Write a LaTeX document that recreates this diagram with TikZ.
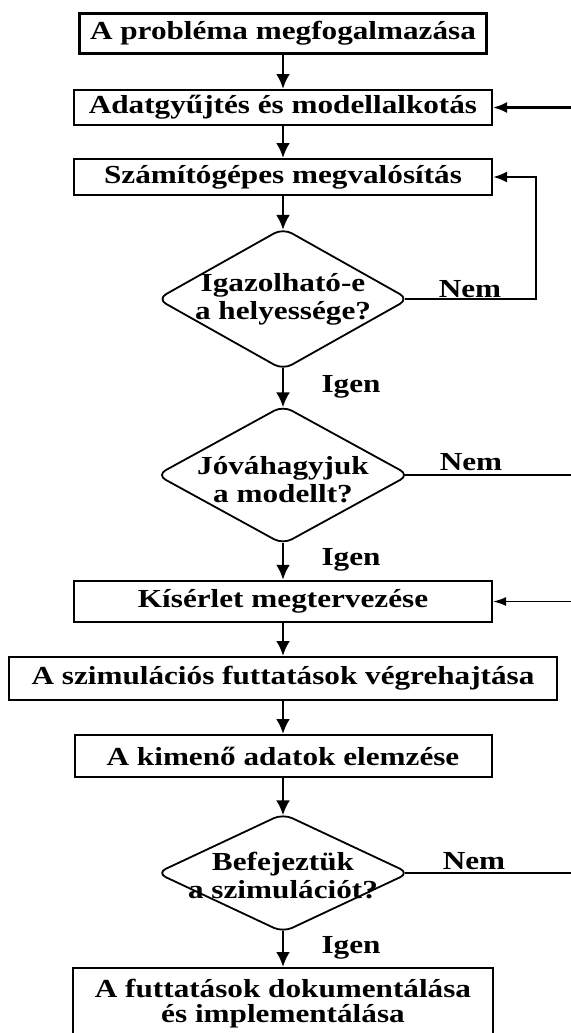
\documentclass[tikz,border=0pt]{standalone}
\usepackage{fontspec}
\setmainfont{Liberation Serif}[FakeStretch=1.2]
\usepackage{tikz}
\usetikzlibrary{shapes.geometric}
\usetikzlibrary{arrows.meta}

\tikzset{
    box/.style={draw,line width=1pt,inner sep=0pt,align=center},
    decision/.style={draw,diamond,rounded corners=5pt,line width=0.9pt,inner sep=0pt},
    dtext/.style={align=center,inner sep=0pt},
    lbl/.style={inner sep=0pt},
    flow/.style={-{Latex[length=7.5pt,width=7pt]},line width=1.4pt},
    back/.style={-{Latex[length=7pt,width=5.5pt]},line width=1.2pt},
    thinback/.style={-{Latex[length=6.5pt,width=4.5pt]},line width=0.6pt},
    thinline/.style={line width=0.6pt},
    intod/.style={shorten >=-1.4pt},
    fromd/.style={shorten <=-1.4pt},
    fromside/.style={shorten <=-2.6pt}
}

\begin{document}
\begin{tikzpicture}[x=0.5pt,y=-0.5pt,font=\bfseries\fontsize{13}{14}\selectfont]
        \useasboundingbox (0,0) rectangle (571,1033);

        \node[box,line width=1.5pt,minimum width=203.5pt,minimum height=20pt] (problema) at (283,33) {A probléma megfogalmazása};
        \node[box,minimum width=209pt,minimum height=17.5pt] (adat) at (283,107.5) {Adatgyűjtés és modellalkotás};
        \node[box,minimum width=209pt,minimum height=18pt] (szamito) at (283,177) {Számítógépes megvalósítás};
        \node[decision,minimum width=126pt,minimum height=71pt] (igazol) at (283,299) {};
        \node[dtext] (igazoltext) at (igazol) {Igazolható-e\\a helyessége?};
        \node[decision,minimum width=126.5pt,minimum height=69.5pt] (jova) at (283,475) {};
        \node[dtext] (jovatext) at (283,480) {Jóváhagyjuk\\a modellt?};
        \node[box,line width=1.2pt,minimum width=209pt,minimum height=20.5pt] (kiserlet) at (283,601.5) {Kísérlet megtervezése};
        \node[box,minimum width=274pt,minimum height=21.5pt] (futtat) at (283,678.5) {A szimulációs futtatások végrehajtása};
        \node[box,minimum width=208.5pt,minimum height=21pt] (kimeno) at (283,756) {A kimenő adatok elemzése};
        \node[decision,minimum width=126.5pt,minimum height=59.5pt] (befejez) at (283,873) {};
        \node[dtext] (befejeztext) at (283,876) {Befejeztük\\a szimulációt?};
        \node[box,minimum width=210pt,minimum height=36pt,font=\bfseries\fontsize{13}{12.5}\selectfont] (dokument) at (283,1004) {A futtatások dokumentálása\\és implementálása};

        \node[lbl] (nem1) at (470,289) {Nem};
        \node[lbl] (nem2) at (471,462) {Nem};
        \node[lbl] (nem3) at (474,861) {Nem};
        \node[lbl] (igen1) at (351,387) {Igen};
        \node[lbl] (igen2) at (351,560) {Igen};
        \node[lbl] (igen3) at (351,948) {Igen};

        \coordinate (loop) at (536,177);
        \coordinate (edgeadat) at (575,107.5);
        \coordinate (edgejova) at (575,475);
        \coordinate (edgekiser) at (575,601.5);
        \coordinate (edgebefej) at (575,873);

        \draw[flow] (problema)--(adat);
        \draw[flow] (adat)--(szamito);
        \draw[flow,intod] (szamito)--(igazol.north);
        \draw[flow,fromd,intod] (igazol.south)--(jova.north);
        \draw[flow,fromd] (jova.south)--(kiserlet);
        \draw[flow] (kiserlet)--(futtat);
        \draw[flow] (futtat)--(kimeno);
        \draw[flow,intod] (kimeno)--(befejez.north);
        \draw[flow,fromd] (befejez.south)--(dokument);

        \draw[back,fromside] (igazol.east) -| (loop) -- (szamito.east);
        \draw[back] (edgeadat)--(adat.east);
        \draw[thinline,fromside] (jova.east)--(edgejova);
        \draw[thinback] (edgekiser)--(kiserlet.east);
        \draw[thinline,fromside] (befejez.east)--(edgebefej);
    \end{tikzpicture}
\end{document}
